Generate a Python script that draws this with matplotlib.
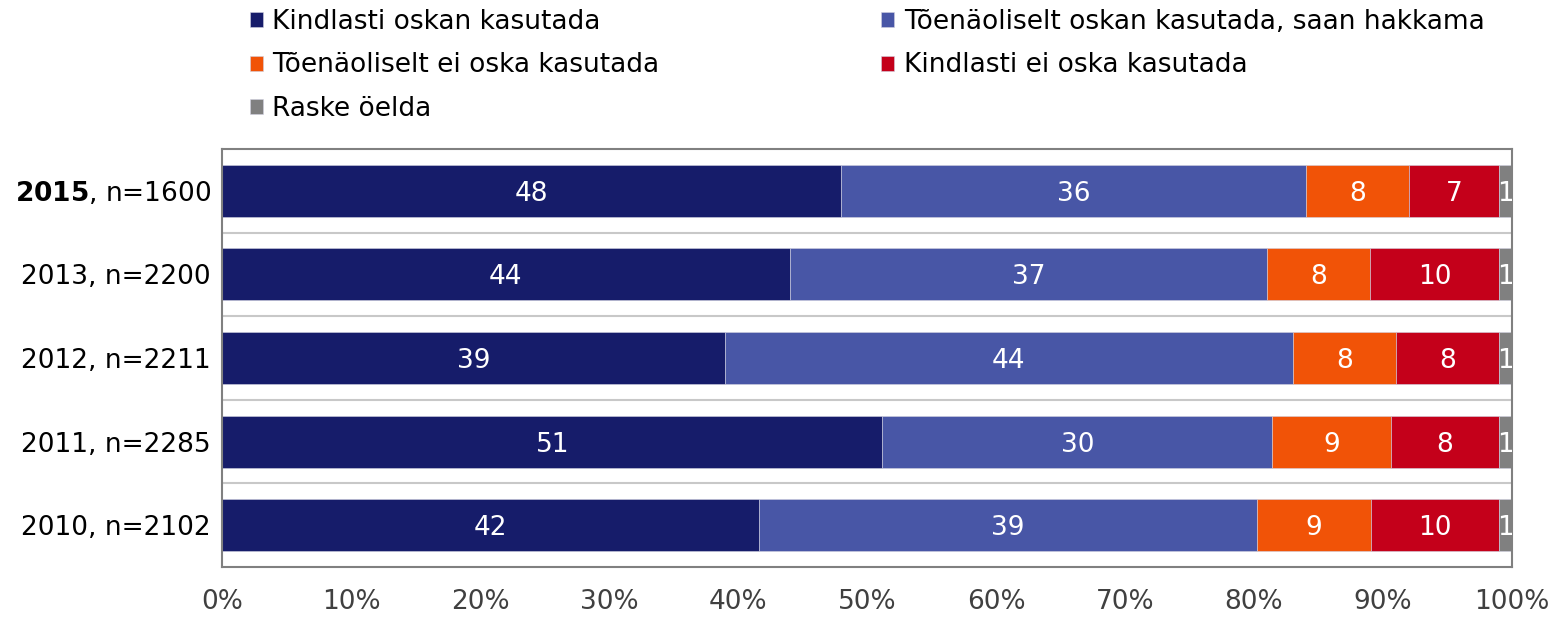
import matplotlib
matplotlib.use("Agg")
import matplotlib.pyplot as plt
import numpy as np

# ---- data ----
years = ["2015", "2013", "2012", "2011", "2010"]
sample_n = [1600, 2200, 2211, 2285, 2102]
series_names = [
    "Kindlasti oskan kasutada",
    "Tõenäoliselt oskan kasutada, saan hakkama",
    "Tõenäoliselt ei oska kasutada",
    "Kindlasti ei oska kasutada",
    "Raske öelda",
]
kindlasti_oskan = [48.0, 44.0, 39.0, 51.2, 41.6]
toen_oskan = [36.0, 37.0, 44.0, 30.2, 38.6]
toen_ei_oska = [8.0, 8.0, 8.0, 9.2, 8.9]
kindlasti_ei_oska = [7.0, 10.0, 8.0, 8.4, 9.9]
raske_oelda = [1.0, 1.0, 1.0, 1.0, 1.0]
x_ticks = [0, 10, 20, 30, 40, 50, 60, 70, 80, 90, 100]

colors = ["#161C6A", "#4856A6", "#F15307", "#C4001A", "#808080"]

plt.rcParams['font.family'] = ['DejaVu Sans']
plt.rcParams['mathtext.fontset'] = 'dejavusans'
FS = 19

fig = plt.figure(figsize=(15.61, 6.18), dpi=100)
ax = fig.add_axes([222 / 1561, 1 - 567 / 618, (1512 - 222) / 1561, (567 - 149) / 618])

data = [kindlasti_oskan, toen_oskan, toen_ei_oska, kindlasti_ei_oska, raske_oelda]
ypos = np.arange(len(years))
left = np.zeros(len(years))
handles = []
for name, vals, c in zip(series_names, data, colors):
    vals = np.array(vals)
    bars = ax.barh(ypos, vals, left=left, height=0.62, color=c, label=name,
                   edgecolor="#d0d0e0", linewidth=0.4)
    handles.append(bars)
    for yi, (l, v) in enumerate(zip(left, vals)):
        ax.text(l + v / 2, yi, f"{int(round(v))}", ha="center", va="center_baseline",
                color="white", fontsize=FS, clip_on=True)
    left = left + vals

ax.set_xlim(0, 100)
ax.set_ylim(len(years) - 0.5, -0.5)
ax.set_xticks(x_ticks)
ax.set_xticklabels([f"{t}%" for t in x_ticks], fontsize=FS, color="#404040")
labels = []
for y, n in zip(years, sample_n):
    if y == "2015":
        labels.append(r"$\mathbf{" + y + r"}$" + f", n={n}")
    else:
        labels.append(f"{y}, n={n}")
ax.set_yticks(ypos)
ax.set_yticklabels(labels, fontsize=FS, color="black", va="center_baseline")
ax.tick_params(axis="y", length=0, pad=8)
ax.tick_params(axis="x", length=0, pad=16)

# category separators
ax.set_yticks(np.arange(len(years) - 1) + 0.5, minor=True)
ax.tick_params(axis="y", which="minor", length=0)
ax.grid(True, axis="y", which="minor", color="#c8c8c8", linewidth=1.5)
ax.set_axisbelow(True)

for sp in ax.spines.values():
    sp.set_color("#808080")
    sp.set_linewidth(1.5)

order = [0, 2, 4, 1, 3]
fig.legend([handles[i] for i in order], [series_names[i] for i in order],
           loc="upper left", bbox_to_anchor=(250 / 1561, 1 - 9 / 618),
           ncol=2, frameon=False, fontsize=FS, borderpad=0, borderaxespad=0,
           handlelength=0.5, handleheight=0.5, handletextpad=0.35,
           columnspacing=8.4, labelspacing=0.66)

fig.savefig("out.png", dpi=100)
